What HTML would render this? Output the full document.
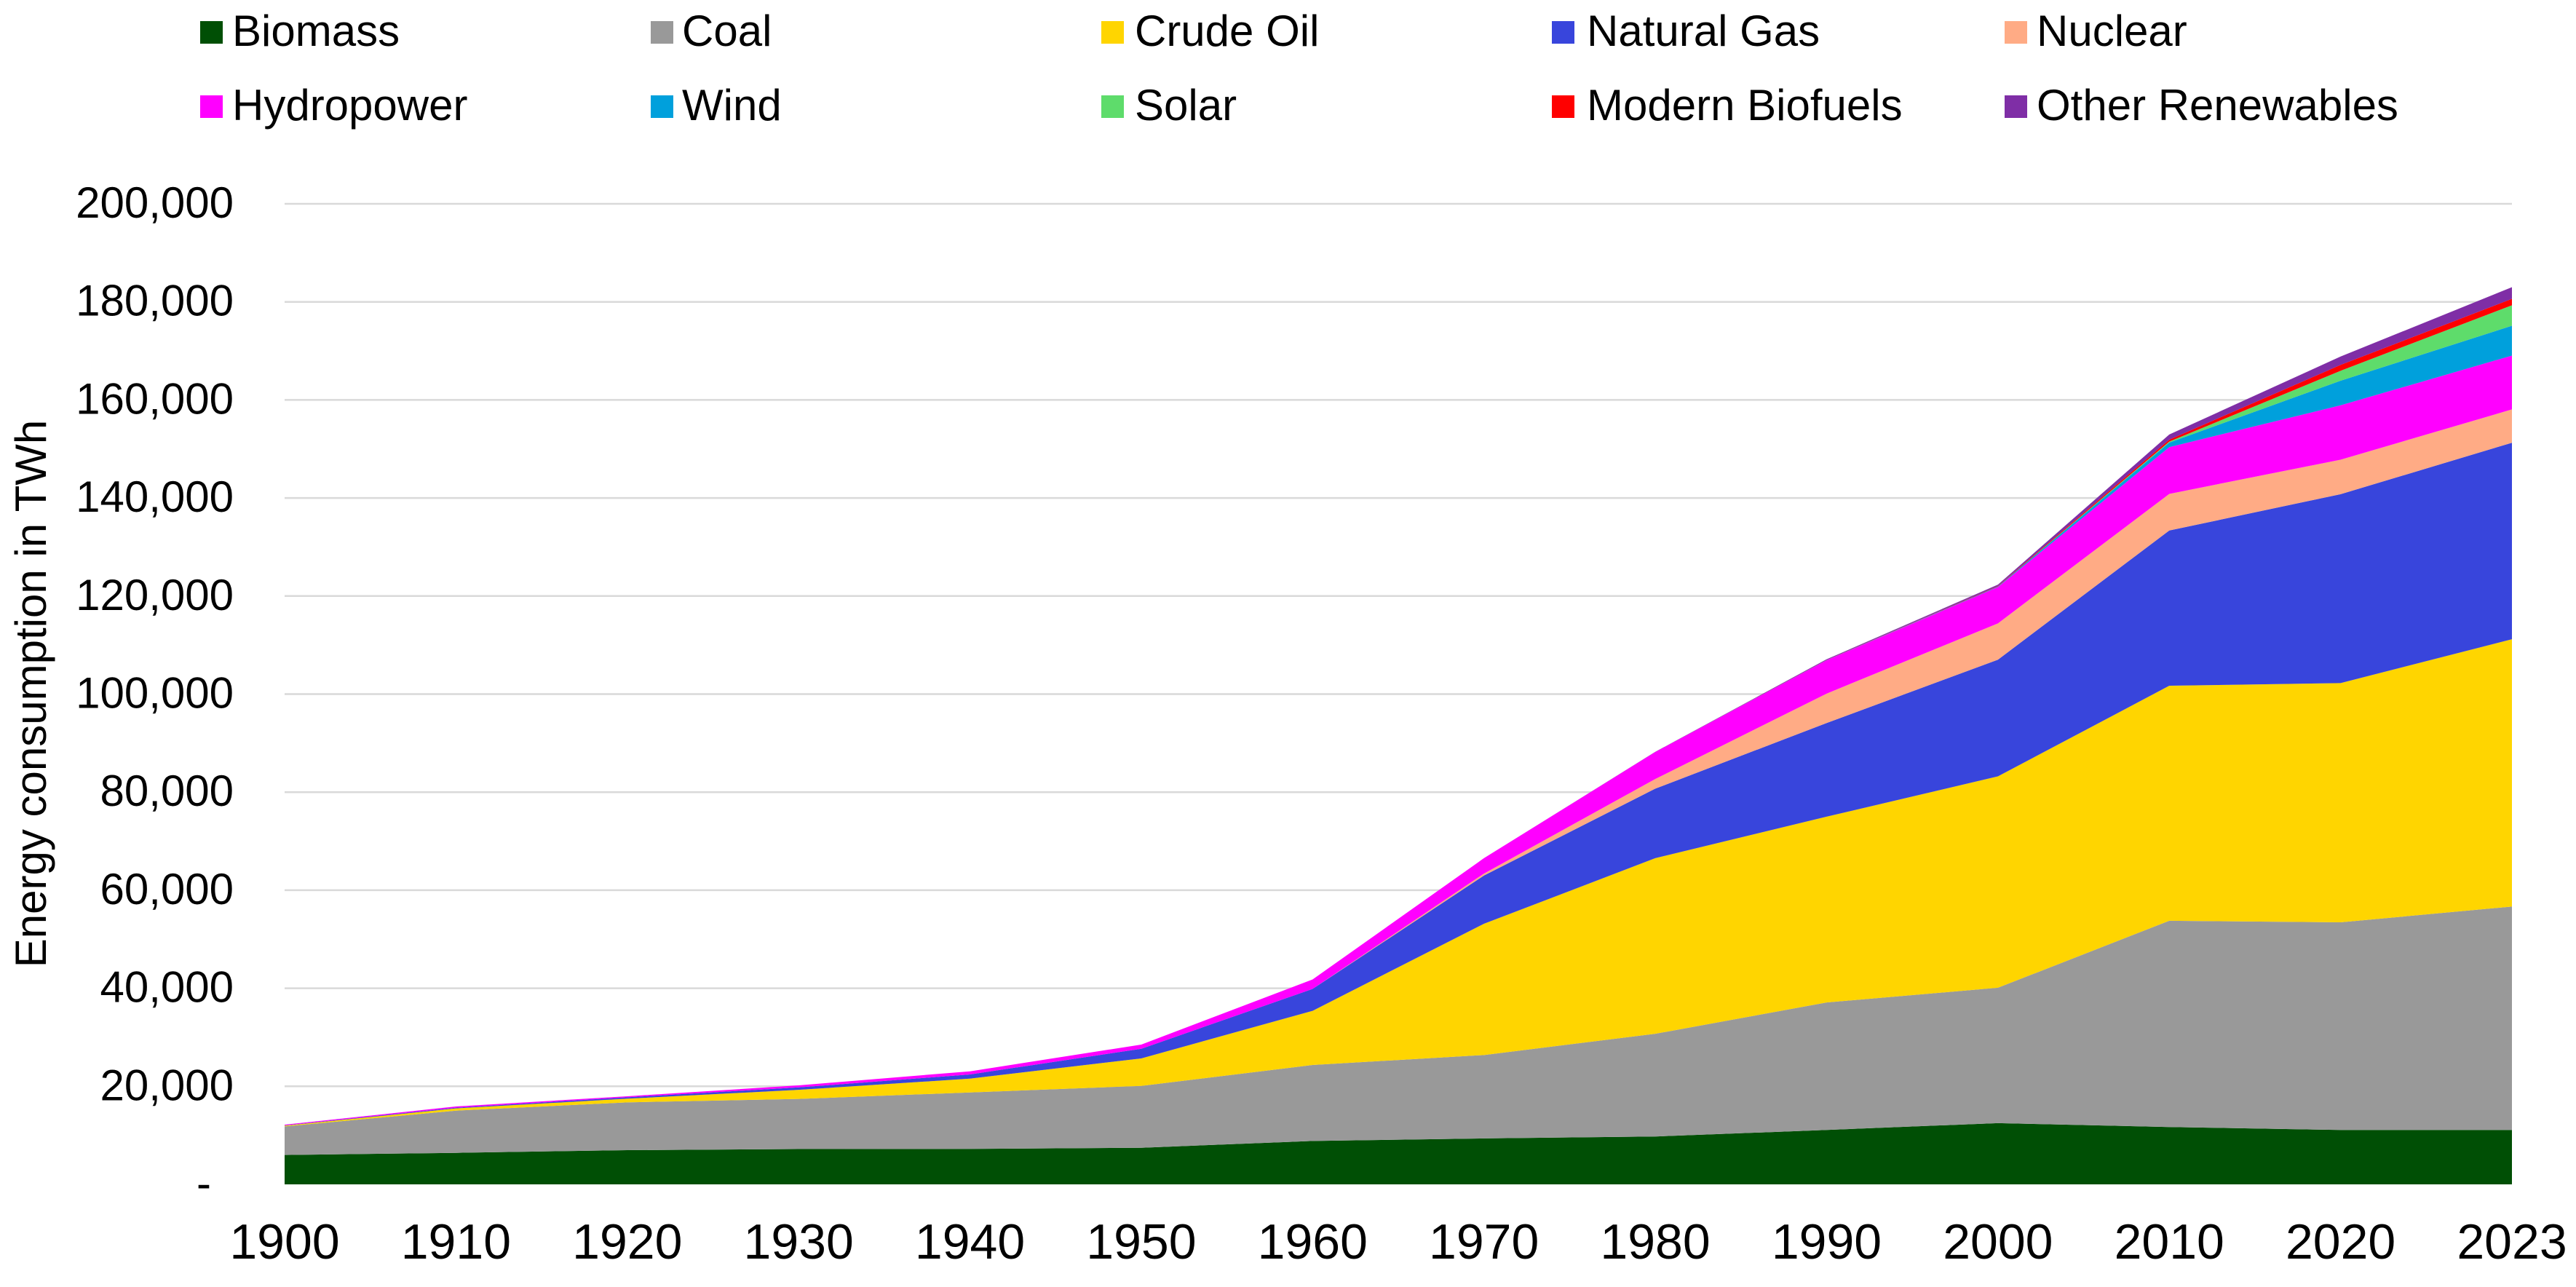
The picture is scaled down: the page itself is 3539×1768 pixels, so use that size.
<!DOCTYPE html>
<html lang="en">
<head>
<meta charset="utf-8">
<title>Energy consumption by source, 1900–2023</title>
<style>
  html, body { margin: 0; padding: 0; background: #ffffff; }
  body { width: 3539px; height: 1768px; overflow: hidden; }
  svg { display: block; }
  text { font-family: "Liberation Sans", Arial, sans-serif; fill: #000000; }
  .legend-label { font-size: 60px; }
  .y-label { font-size: 60px; text-anchor: end; }
  .x-label { font-size: 68px; text-anchor: middle; }
  .y-title { font-size: 60px; text-anchor: middle; }
</style>
</head>
<body>
<svg id="chart" width="3539" height="1768" viewBox="0 0 3539 1768" xmlns="http://www.w3.org/2000/svg">
  <g id="grid"></g>
  <g id="areas"></g>
  <g id="y-axis"></g>
  <g id="x-axis"></g>
  <text class="y-title" transform="translate(63 953) rotate(-90)">Energy consumption in TWh</text>

  <g>
    <g><rect x="275" y="29" width="31" height="31" fill="#004f05"/><text class="legend-label" x="319" y="63">Biomass</text></g>
    <g><rect x="894" y="29" width="31" height="31" fill="#999999"/><text class="legend-label" x="937" y="63">Coal</text></g>
    <g><rect x="1513" y="29" width="31" height="31" fill="#ffd500"/><text class="legend-label" x="1559" y="63">Crude Oil</text></g>
    <g><rect x="2132" y="29" width="31" height="31" fill="#3845dc"/><text class="legend-label" x="2180" y="63">Natural Gas</text></g>
    <g><rect x="2754" y="29" width="31" height="31" fill="#ffab85"/><text class="legend-label" x="2798" y="63">Nuclear</text></g>
    <g><rect x="275" y="131" width="31" height="31" fill="#ff00ff"/><text class="legend-label" x="319" y="165">Hydropower</text></g>
    <g><rect x="894" y="131" width="31" height="31" fill="#00a0dc"/><text class="legend-label" x="937" y="165">Wind</text></g>
    <g><rect x="1513" y="131" width="31" height="31" fill="#5edc6b"/><text class="legend-label" x="1559" y="165">Solar</text></g>
    <g><rect x="2132" y="131" width="31" height="31" fill="#ff0000"/><text class="legend-label" x="2180" y="165">Modern Biofuels</text></g>
    <g><rect x="2754" y="131" width="31" height="31" fill="#7f2ea6"/><text class="legend-label" x="2798" y="165">Other Renewables</text></g>
  </g>
</svg>

<script>
const years = ['1900','1910','1920','1930','1940','1950','1960','1970','1980','1990','2000','2010','2020','2023'];
const yTicks = [0, 20000, 40000, 60000, 80000, 100000, 120000, 140000, 160000, 180000, 200000];
const yTickLabels = ['-', '20,000', '40,000', '60,000', '80,000', '100,000', '120,000', '140,000', '160,000', '180,000', '200,000'];

const biomass = [6000, 6430, 6980, 7200, 7230, 7470, 8850, 9370, 9760, 11100, 12490, 11700, 11090, 11090];
const coal = [5830, 8610, 9750, 10230, 11520, 12620, 15500, 17010, 20950, 26000, 27610, 42070, 42360, 45580];
const crudeOil = [150, 450, 750, 1850, 2820, 5600, 11050, 26770, 35820, 37900, 43120, 47930, 48790, 54520];
const naturalGas = [50, 150, 290, 500, 850, 1970, 4470, 9840, 14180, 19100, 23800, 31670, 38530, 40080];
const nuclear = [0, 0, 0, 0, 0, 0, 0, 400, 1970, 6000, 7410, 7470, 7040, 6800];
const hydropower = [145, 250, 200, 420, 640, 850, 1930, 3140, 5510, 6800, 7420, 9540, 11090, 10980];
const wind = [0, 0, 0, 0, 0, 0, 0, 0, 0, 20, 100, 920, 5020, 6080];
const solar = [0, 0, 0, 0, 0, 0, 0, 0, 0, 0, 10, 200, 2030, 4180];
const modernBiofuels = [0, 0, 0, 0, 0, 0, 0, 0, 0, 30, 90, 400, 1190, 1310];
const otherRenewables = [0, 0, 0, 0, 0, 0, 0, 0, 40, 150, 280, 1050, 1710, 2380];

const seriesNames = ['biomass', 'coal', 'crude-oil', 'natural-gas', 'nuclear', 'hydropower', 'wind', 'solar', 'modern-biofuels', 'other-renewables'];
const seriesValues = [biomass, coal, crudeOil, naturalGas, nuclear, hydropower, wind, solar, modernBiofuels, otherRenewables];
const seriesColors = ['#004f05', '#999999', '#ffd500', '#3845dc', '#ffab85', '#ff00ff', '#00a0dc', '#5edc6b', '#ff0000', '#7f2ea6'];

const plot = { left: 391, right: 3451, top: 280, bottom: 1627, yMax: 200000 };
const SVG_NS = 'http://www.w3.org/2000/svg';

function xScale(i) {
  return plot.left + i * (plot.right - plot.left) / (years.length - 1);
}
function yScale(v) {
  return plot.bottom - (v / plot.yMax) * (plot.bottom - plot.top);
}

const gridGroup = document.getElementById('grid');
const yAxisGroup = document.getElementById('y-axis');
yTicks.forEach(function (tick, i) {
  const y = yScale(tick);
  if (tick > 0) {
    const line = document.createElementNS(SVG_NS, 'line');
    
    
    line.setAttribute('x1', plot.left);
    line.setAttribute('x2', plot.right);
    line.setAttribute('y1', y);
    line.setAttribute('y2', y);
    line.setAttribute('stroke', '#d9d9d9');
    line.setAttribute('stroke-width', '2.5');
    gridGroup.appendChild(line);
  }
  const label = document.createElementNS(SVG_NS, 'text');
  
  
  label.setAttribute('class', 'y-label');
  label.setAttribute('x', tick === 0 ? 290 : 321);
  label.setAttribute('y', y + 19);
  label.textContent = yTickLabels[i];
  yAxisGroup.appendChild(label);
});

const xAxisGroup = document.getElementById('x-axis');
years.forEach(function (year, i) {
  const label = document.createElementNS(SVG_NS, 'text');
  
  
  label.setAttribute('class', 'x-label');
  label.setAttribute('x', xScale(i));
  label.setAttribute('y', 1729);
  label.textContent = year;
  xAxisGroup.appendChild(label);
});

const areasGroup = document.getElementById('areas');
let baseline = years.map(function () { return 0; });
seriesValues.forEach(function (values, s) {
  const top = values.map(function (v, i) { return baseline[i] + v; });
  const upper = top.map(function (v, i) { return xScale(i) + ',' + yScale(v); });
  const lower = baseline.map(function (v, i) { return xScale(i) + ',' + yScale(v); }).reverse();
  const area = document.createElementNS(SVG_NS, 'polygon');
  
  
  area.setAttribute('points', upper.concat(lower).join(' '));
  area.setAttribute('fill', seriesColors[s]);
  areasGroup.appendChild(area);
  baseline = top;
});
</script>
</body>
</html>
